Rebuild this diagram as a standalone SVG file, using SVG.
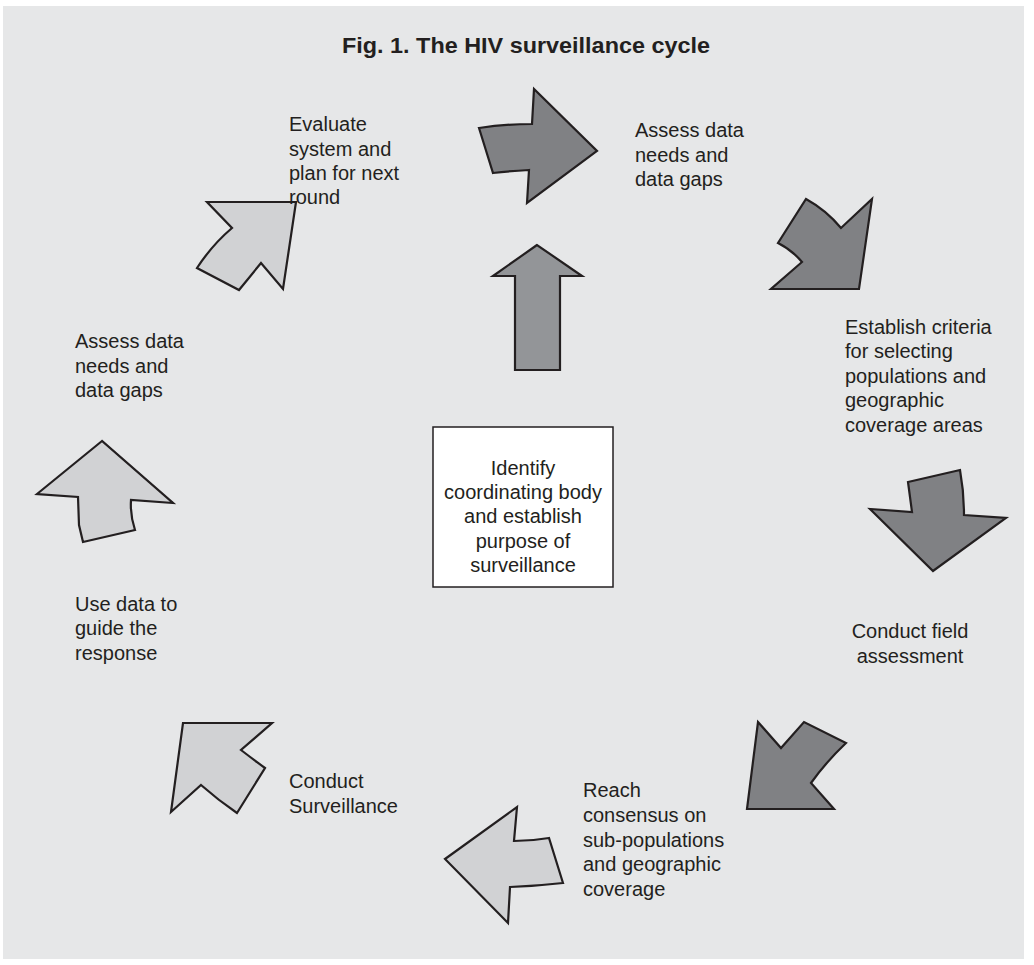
<svg xmlns="http://www.w3.org/2000/svg" width="1034" height="965" viewBox="0 0 1034 965">
<style>
.bg{fill:#e6e7e8}
.dark{fill:#808184;stroke:#231f20;stroke-width:2.2;stroke-linejoin:miter}
.mid{fill:#939598;stroke:#231f20;stroke-width:2.2}
.light{fill:#d1d2d4;stroke:#231f20;stroke-width:2.2}
.t{font-family:"Liberation Sans",Arial,sans-serif;font-size:20px;fill:#231f20}
.c{text-anchor:middle}
.title{font-family:"Liberation Sans",Arial,sans-serif;font-size:22px;font-weight:bold;fill:#231f20;text-anchor:middle}
.box{fill:#ffffff;stroke:#231f20;stroke-width:1.5}
</style>
<rect width="1034" height="965" fill="#ffffff"/>
<rect class="bg" x="3" y="6" width="1021" height="953"/>
<text class="title" x="526" y="53" textLength="368" lengthAdjust="spacingAndGlyphs">Fig. 1. The HIV surveillance cycle</text>

<g id="connectors">
  <path id="a1" class="dark" d="M479,128 Q505,124 532,124 L534,89 L597,151 L527,203 L529,170 Q510,171 493,173 Z"/>
  <path id="a2" class="dark" d="M806,199 Q826,210 841,228 L872,199 L859,289 L771,289 L802,262 Q792,250 778,243 Z"/>
  <path id="a3" class="dark" d="M908,482 L960,470 Q964,492 964,515 L1006,518 L933,571 L870,509 L912,512 Z"/>
  <path id="a4" class="dark" d="M758,722 L781,748 L804,722 L846,743 Q826,762 811,783 L834,809 L747,809 Z"/>
  <path id="a5" class="light" d="M517,807 L514,841 Q532,841 549,838 L563,883 Q537,886 510,887 L508,923 L445,859 Z"/>
  <path id="a6" class="light" d="M183,723 L272,723 L241,750 Q254,760 265,768 L237,813 Q218,800 201,785 L171,812 Z"/>
  <path id="a7" class="light" d="M102,441 L37,494 L78,497 L79,525 L83,542 L135,530 Q130,515 131,500 L173,503 Z"/>
  <path id="a8" class="light" d="M207,202 L296,202 L283,289 L261,263 L239,290 L197,268 Q212,245 232,228 Z"/>
  <path id="a9" class="mid" d="M537,245 L493,276 L515,276 L515,370 L560,370 L560,276 L582,276 Z"/>
</g>

<g id="center">
  <rect class="box" x="433" y="427" width="180" height="160"/>
  <text class="t c" x="523" y="475">Identify</text>
  <text class="t c" x="523" y="499">coordinating body</text>
  <text class="t c" x="523" y="523">and establish</text>
  <text class="t c" x="523" y="548">purpose of</text>
  <text class="t c" x="523" y="572">surveillance</text>
</g>

<g id="n-evaluate">
  <text class="t" x="289" y="131">Evaluate</text>
  <text class="t" x="289" y="156">system and</text>
  <text class="t" x="289" y="180">plan for next</text>
  <text class="t" x="289" y="204">round</text>
</g>
<g id="n-assess-right">
  <text class="t" x="635" y="137">Assess data</text>
  <text class="t" x="635" y="162">needs and</text>
  <text class="t" x="635" y="186">data gaps</text>
</g>
<g id="n-criteria">
  <text class="t" x="845" y="334">Establish criteria</text>
  <text class="t" x="845" y="358">for selecting</text>
  <text class="t" x="845" y="383">populations and</text>
  <text class="t" x="845" y="407">geographic</text>
  <text class="t" x="845" y="432">coverage areas</text>
</g>
<g id="n-field">
  <text class="t c" x="910" y="638">Conduct field</text>
  <text class="t c" x="910" y="663">assessment</text>
</g>
<g id="n-consensus">
  <text class="t" x="583" y="797">Reach</text>
  <text class="t" x="583" y="822">consensus on</text>
  <text class="t" x="583" y="847">sub-populations</text>
  <text class="t" x="583" y="871">and geographic</text>
  <text class="t" x="583" y="896">coverage</text>
</g>
<g id="n-surveillance">
  <text class="t" x="289" y="788">Conduct</text>
  <text class="t" x="289" y="813">Surveillance</text>
</g>
<g id="n-use">
  <text class="t" x="75" y="611">Use data to</text>
  <text class="t" x="75" y="635">guide the</text>
  <text class="t" x="75" y="660">response</text>
</g>
<g id="n-assess-left">
  <text class="t" x="75" y="348">Assess data</text>
  <text class="t" x="75" y="373">needs and</text>
  <text class="t" x="75" y="397">data gaps</text>
</g>
</svg>
